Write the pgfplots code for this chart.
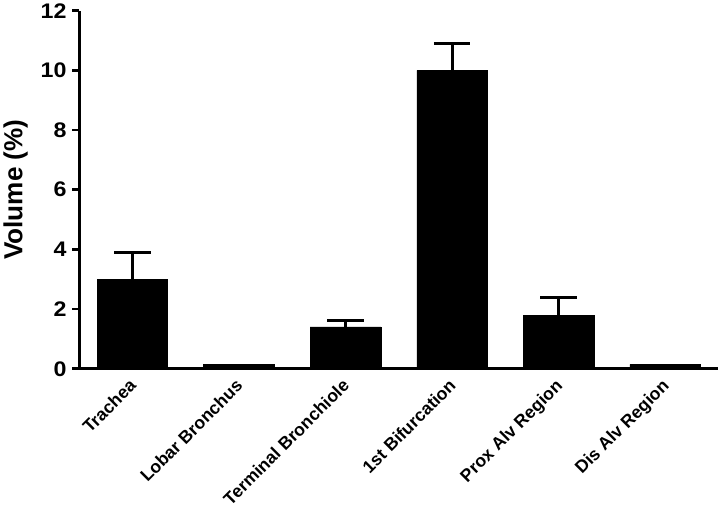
\documentclass[border=0pt]{standalone}
\usepackage{fontspec}
\setmainfont{Liberation Sans}
\newfontfamily\wide[FakeStretch=1.1]{Liberation Sans}
\usepackage{pgfplots}
\pgfplotsset{compat=1.18}

\begin{document}
\begin{tikzpicture}
\begin{axis}[
  width=634bp, height=355bp, scale only axis,
  axis x line*=bottom, axis y line*=left,
  axis line style={line width=3bp, black},
  xmin=-0.5, xmax=5.5, ymin=0, ymax=12,
  ytick={0,2,...,12},
  xtick={0,...,5},
  xticklabels={Trachea, Lobar Bronchus, Terminal Bronchiole, 1st Bifurcation, Prox Alv Region, Dis Alv Region},
  x tick label style={rotate=45, anchor=north east, xshift=-1bp, yshift=5bp, font=\fontsize{17.5}{19}\selectfont\bfseries},
  y tick label style={font=\wide\fontsize{21}{24}\selectfont\bfseries, xshift=-2bp},
  /pgf/number format/assume math mode=true,
  x tick style={draw=none},
  y tick style={line width=2.5bp, black},
  major tick length=7bp, tick align=outside,
  ylabel={Volume (\%)},
  ylabel style={font=\fontsize{26}{30}\selectfont\bfseries, yshift=6bp},
]
% bars with error bars
\addplot[ybar, bar width=70bp, fill=black, draw=black,
  error bars/.cd, y dir=plus, y explicit,
  error bar style={line width=3bp, black},
  error mark options={rotate=90, line width=3bp, black, mark size=18bp}]
coordinates {
  (0,3.0) +- (0,0.9)
  (2,1.4) +- (0,0.22)
  (3,10.0) +- (0,0.9)
  (4,1.8) +- (0,0.6)
};
% bars without error bars
\addplot[ybar, bar width=70bp, fill=black, draw=black]
coordinates {(1,0.15) (5,0.15)};
\end{axis}
\end{tikzpicture}
\end{document}
